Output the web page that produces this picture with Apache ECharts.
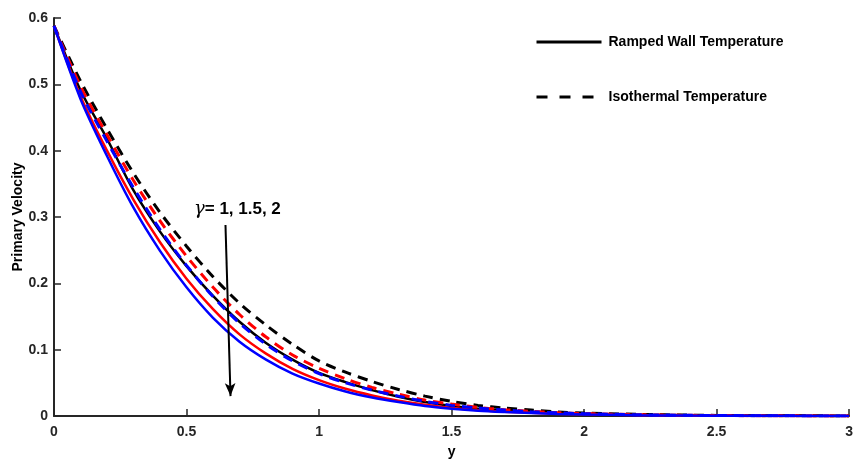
<!DOCTYPE html>
<html>
<head>
<meta charset="utf-8">
<script src="https://cdn.jsdelivr.net/npm/echarts@6/dist/echarts.min.js"></script>
<style>
html,body{margin:0;padding:0;background:#fff;}
#chart{width:856px;height:464px;}
</style>
</head>
<body>
<div id="chart"></div>
<script>
// y positions (abscissa)
var yPos = [0,0.1,0.2,0.3,0.4,0.5,0.6,0.7,0.8,0.9,1.0,1.1,1.2,1.3,1.4,1.5,1.6,1.7,1.8,1.9,2.0,2.2,2.4,2.6,2.8,3.0];
// Ramped wall temperature, gamma = 1, 1.5, 2
var ramped1 = [0.588,0.491,0.418,0.340,0.278,0.226,0.181,0.142,0.110,0.085,0.065,0.051,0.039,0.029,0.021,0.015,0.011,0.008,0.006,0.0045,0.0035,0.002,0.001,0.0005,0.0002,0.0001];
var ramped15 = [0.588,0.482,0.400,0.326,0.262,0.207,0.161,0.123,0.094,0.071,0.054,0.041,0.031,0.023,0.017,0.012,0.009,0.0065,0.0048,0.0035,0.0026,0.0014,0.0007,0.0003,0.0001,0];
var ramped2 = [0.588,0.478,0.392,0.314,0.249,0.194,0.148,0.112,0.085,0.064,0.049,0.037,0.028,0.021,0.015,0.011,0.008,0.006,0.0044,0.0032,0.0024,0.0013,0.0006,0.0003,0.0001,0];
// Isothermal temperature, gamma = 1, 1.5, 2
var iso1 = [0.588,0.505,0.433,0.366,0.307,0.256,0.210,0.170,0.137,0.108,0.083,0.066,0.052,0.040,0.030,0.022,0.016,0.012,0.009,0.006,0.0045,0.0025,0.0013,0.0006,0.0003,0.0001];
var iso15 = [0.588,0.497,0.424,0.355,0.294,0.241,0.194,0.153,0.119,0.092,0.072,0.056,0.043,0.033,0.024,0.018,0.013,0.0095,0.007,0.005,0.0037,0.002,0.001,0.0005,0.0002,0.0001];
var iso2 = [0.588,0.489,0.414,0.344,0.281,0.227,0.180,0.140,0.108,0.083,0.064,0.050,0.039,0.030,0.022,0.016,0.012,0.009,0.0065,0.0048,0.0035,0.0019,0.001,0.0005,0.0002,0.0001];
// annotation arrow (data coords)
var arrowFrom = [0.647, 0.288];
var arrowTo = [0.666, 0.030];
var annotPos = [0.692, 0.311];

function pairs(vals){ return yPos.map(function(x,i){ return [x, vals[i]]; }); }

var FONT = '"Liberation Sans", Arial, sans-serif';
var chart = echarts.init(document.getElementById('chart'));

function lineSeries(name, vals, color, dashed){
  return {
    name: name, type: 'line', data: pairs(vals), smooth: 0.3, symbol: 'none',
    lineStyle: { color: color, width: dashed ? 3 : 2.5, type: dashed ? [10,7] : 'solid' },
    itemStyle: { color: color },
    z: 3
  };
}

var series = [
  lineSeries('R1', ramped1, '#000000', false),
  lineSeries('I1', iso1, '#000000', true),
  lineSeries('R15', ramped15, '#ff0000', false),
  lineSeries('I15', iso15, '#ff0000', true),
  lineSeries('R2', ramped2, '#0000ff', false),
  lineSeries('I2', iso2, '#0000ff', true),
  {
    name: 'Ramped Wall Temperature', type: 'line', data: [], symbol: 'none',
    lineStyle: { color: '#000', width: 3, type: 'solid' }, itemStyle: { color: '#000' }
  },
  {
    name: 'Isothermal Temperature', type: 'line', data: [], symbol: 'none',
    lineStyle: { color: '#000', width: 3, type: [11,12] }, itemStyle: { color: '#000' }
  }
];

series[0].markLine = {
  silent: true, symbol: ['none', 'arrow'], symbolSize: [8, 13],
  label: { show: false },
  lineStyle: { color: '#000', width: 2, type: 'solid' },
  data: [[{ coord: arrowFrom }, { coord: arrowTo }]],
  animation: false
};
series[0].markPoint = {
  silent: true, symbol: 'circle', symbolSize: 0,
  label: {
    show: true, position: 'inside',
    formatter: '{g|γ}{t|= 1, 1.5, 2}',
    rich: {
      g: { fontFamily: '"DejaVu Serif", serif', fontStyle: 'italic', fontSize: 18, color: '#000' },
      t: { fontFamily: FONT, fontWeight: 'bold', fontSize: 17, color: '#000' }
    }
  },
  data: [{ coord: annotPos }],
  animation: false
};

var option = {
  animation: false,
  backgroundColor: '#fff',
  grid: { left: 54, right: 6, top: 18, bottom: 48, containLabel: false },
  legend: {
    data: ['Ramped Wall Temperature', 'Isothermal Temperature'],
    orient: 'vertical', left: 535, top: 35, padding: 0,
    itemWidth: 65, itemHeight: 14, itemGap: 41,
    itemStyle: { opacity: 0, borderWidth: 0 },
    lineStyle: { width: 3 },
    textStyle: { fontFamily: FONT, fontWeight: 'bold', fontSize: 14, color: '#000', padding: [0,0,0,2] }
  },
  xAxis: {
    type: 'value', min: 0, max: 3, interval: 0.5,
    name: 'y', nameLocation: 'middle', nameGap: 29, nameMoveOverlap: false,
    nameTextStyle: { fontFamily: FONT, fontWeight: 'bold', fontSize: 14, color: '#000' },
    axisLine: { show: true, onZero: false, lineStyle: { color: '#262626', width: 2 } },
    axisTick: { show: true, inside: true, length: 7, lineStyle: { color: '#262626', width: 1.5 } },
    axisLabel: { fontFamily: FONT, fontWeight: 'bold', fontSize: 14, color: '#262626', margin: 9 },
    splitLine: { show: false }
  },
  yAxis: {
    type: 'value', min: 0, max: 0.6, interval: 0.1,
    name: 'Primary Velocity', nameLocation: 'middle', nameGap: 29, nameRotate: 90, nameMoveOverlap: false,
    nameTextStyle: { fontFamily: FONT, fontWeight: 'bold', fontSize: 14, color: '#000' },
    axisLine: { show: true, onZero: false, lineStyle: { color: '#262626', width: 2 } },
    axisTick: { show: true, inside: true, length: 7, lineStyle: { color: '#262626', width: 1.5 } },
    axisLabel: { fontFamily: FONT, fontWeight: 'bold', fontSize: 14, color: '#262626', margin: 6 },
    splitLine: { show: false }
  },
  series: series
};
chart.setOption(option);
</script>
</body>
</html>
